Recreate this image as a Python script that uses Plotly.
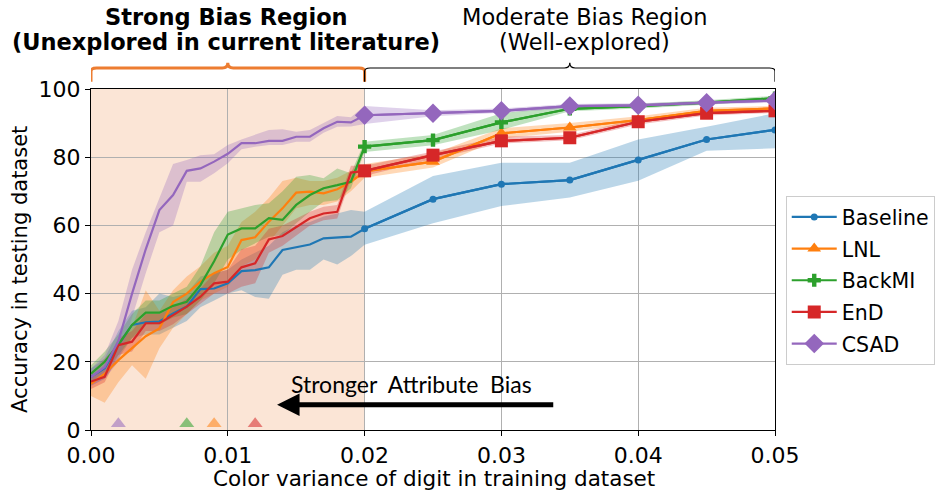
import plotly.graph_objects as go

x = [0.000, 0.001, 0.002, 0.003, 0.004, 0.005, 0.006, 0.007, 0.008, 0.009, 0.010,
     0.011, 0.012, 0.013, 0.014, 0.015, 0.016, 0.017, 0.018, 0.019, 0.020,
     0.025, 0.030, 0.035, 0.040, 0.045, 0.050]

baseline = [15.6, 18.1, 25.0, 30.8, 31.6, 31.8, 34.2, 36.2, 41.3, 41.5, 43.0,
            46.6, 46.9, 47.7, 52.8, 53.5, 54.4, 56.2, 56.5, 56.7, 59.0,
            67.7, 72.1, 73.3, 79.2, 85.2, 88.0]
baseline_lo = [13, 15, 21, 27, 28, 28, 30, 32, 36, 38, 40,
               41, 39, 38.5, 45.5, 47, 47, 50, 48.5, 51, 54.3,
               60.6, 65.7, 68.2, 73.1, 81.9, 82.6]
baseline_hi = [18, 21, 29, 35, 36, 40, 39, 40, 45, 46, 47,
               50, 52, 54, 58, 60, 61, 62.6, 63.5, 64.5, 64.0,
               74.5, 78.4, 78.4, 85.2, 88.9, 92.9]

lnl = [13.5, 16.5, 20.5, 24.0, 27.5, 29.8, 37.5, 40.0, 43.5, 46.0, 47.8,
       55.7, 56.5, 61.1, 65.0, 69.6, 69.9, 69.4, 70.6, 72.8, 75.8,
       78.7, 87.0, 88.7, 90.9, 93.6, 94.3]
lnl_lo = [10, 8, 14, 19, 15, 24, 30, 34, 38, 40, 42,
          48, 50, 55, 60, 65, 66, 66, 67, 70, 74,
          77, 85.5, 87.5, 90, 92.8, 93.5]
lnl_hi = [17, 21, 25, 30, 41, 35, 41, 45, 48, 52, 54,
          61, 64, 68, 73, 74, 73, 73, 74, 76, 78,
          81, 88.5, 90, 92, 94.5, 95]

backmi = [16.5, 20.0, 25.0, 30.8, 34.4, 34.4, 36.4, 37.6, 42.5, 49.5, 57.3,
          59.1, 59.1, 62.1, 61.6, 66.0, 68.9, 70.9, 71.8, 72.8, 83.1,
          85.0, 90.2, 94.2, 95.0, 96.0, 97.3]
backmi_lo = [14, 17, 22, 27, 31, 31, 33, 34, 38, 43, 50,
             52.8, 54.8, 56.7, 57.2, 60.6, 64, 66.9, 67.4, 70.9, 81.5,
             83.5, 88, 93.5, 94.3, 95.3, 96.5]
backmi_hi = [19, 23, 28, 34, 38, 38, 40, 42, 48, 58, 64,
             65, 66, 66.5, 70, 74.3, 74.8, 73.8, 76.7, 75.3, 84.5,
             86.5, 92.9, 95, 95.7, 96.7, 98]

end = [14.2, 15.6, 24.9, 25.9, 31.3, 31.3, 33.7, 36.2, 39.1, 43.0, 43.5,
       47.7, 48.9, 55.9, 56.9, 59.4, 62.1, 63.5, 64.0, 75.5, 76.0,
       80.6, 84.8, 85.7, 90.4, 92.9, 93.6]
end_lo = [12, 14, 22, 23, 29, 29, 31, 34, 37, 40, 40,
          42, 43, 52, 54, 57, 60, 61.5, 62, 73.5, 74.5,
          79.5, 84, 85, 89.6, 92.2, 93]
end_hi = [16, 18, 27, 29, 34, 34, 36, 38.5, 41.5, 46, 47,
          53, 54, 59, 60, 62, 64, 65.5, 66, 77.5, 77.5,
          81.7, 86, 86.5, 91.2, 93.6, 94.3]

csad = [15.5, 18.5, 26.0, 40.0, 53.0, 64.5, 68.9, 76.0, 76.7, 78.7, 81.0,
        84.1, 84.1, 84.8, 84.8, 86.0, 86.0, 88.5, 90.4, 90.2, 92.3,
        92.9, 93.6, 95.0, 95.2, 96.0, 96.6]
csad_lo = [13, 15, 20, 33, 46, 58, 60, 72.8, 72.8, 75.3, 78.2,
           82.3, 83.1, 83.6, 83.6, 84.5, 84.5, 87.2, 88.9, 89, 89.7,
           92, 93, 94.3, 94.6, 95.5, 96]
csad_hi = [18, 22, 32, 47, 58, 68, 78, 79.2, 80.6, 80.9, 83.6,
           85.2, 86.5, 88, 88.2, 87.5, 88, 90.1, 92.1, 91.7, 95,
           93.8, 94.3, 95.6, 95.8, 96.5, 97.3]

names = ["Baseline", "LNL", "BackMI", "EnD", "CSAD"]
means = [baseline, lnl, backmi, end, csad]
lows = [baseline_lo, lnl_lo, backmi_lo, end_lo, csad_lo]
highs = [baseline_hi, lnl_hi, backmi_hi, end_hi, csad_hi]
colors = ["#1f77b4", "#ff7f0e", "#2ca02c", "#d62728", "#9467bd"]
fills = ["rgba(31,119,180,0.3)", "rgba(255,127,14,0.3)", "rgba(44,160,44,0.3)",
         "rgba(214,39,40,0.3)", "rgba(148,103,189,0.3)"]
symbols = ["circle", "triangle-up", "cross", "square", "diamond"]
msizes = [7, 12, 11, 13, 15]

# x positions of the coloured flags at the bottom
flag_x = [0.002, 0.009, 0.007, 0.012]
flag_y = [1.8, 1.8, 1.8, 1.8]
flag_colors = ["rgba(148,103,189,0.55)", "rgba(255,127,14,0.55)",
               "rgba(44,160,44,0.55)", "rgba(214,39,40,0.55)"]

xtick_vals = [0, 0.01, 0.02, 0.03, 0.04, 0.05]
xtick_text = ["0.00", "0.01", "0.02", "0.03", "0.04", "0.05"]
ytick_vals = [0, 20, 40, 60, 80, 100]

marker_start = 0.02
region_split = 0.02

fig = go.Figure()

for i in range(5):
    fig.add_trace(go.Scatter(
        x=x + x[::-1], y=highs[i] + lows[i][::-1], fill="toself",
        fillcolor=fills[i], line=dict(width=0), mode="lines",
        hoverinfo="skip", showlegend=False, legendgroup=names[i]))

for i in range(5):
    fig.add_trace(go.Scatter(
        x=x, y=means[i], mode="lines", line=dict(color=colors[i], width=2.2),
        showlegend=False, legendgroup=names[i]))
    xs = [v for v in x if v >= marker_start]
    ys = [m for v, m in zip(x, means[i]) if v >= marker_start]
    fig.add_trace(go.Scatter(
        x=xs, y=ys, mode="lines+markers", name=names[i], legendgroup=names[i],
        line=dict(color=colors[i], width=2.2),
        marker=dict(symbol=symbols[i], size=msizes[i], color=colors[i],
                    line=dict(width=0))))

fig.add_trace(go.Scatter(
    x=flag_x, y=flag_y, mode="markers", showlegend=False,
    marker=dict(symbol="triangle-up", size=13, color=flag_colors, line=dict(width=0))))

# shaded strong-bias region
fig.add_shape(type="rect", xref="x", yref="paper", x0=0, x1=region_split, y0=0, y1=1,
              fillcolor="rgba(237,125,49,0.2)", line=dict(width=0), layer="below")

# brackets above plot
def bracket(x0, x1, color, width):
    xm = (x0 + x1) / 2
    ytop = 1.0616
    ybot = 1.021
    ypeak = 1.077
    d = 0.0004
    path = (f"M {x0},{ybot} L {x0},{ytop - 0.01} Q {x0},{ytop} {x0 + d},{ytop} "
            f"L {xm - d},{ytop} Q {xm},{ytop} {xm},{ypeak} "
            f"Q {xm},{ytop} {xm + d},{ytop} L {x1 - d},{ytop} "
            f"Q {x1},{ytop} {x1},{ytop - 0.01} L {x1},{ybot}")
    fig.add_shape(type="path", path=path, xref="x", yref="paper",
                  line=dict(color=color, width=width))

bracket(0.0, region_split, "#ED7D31", 3)
bracket(region_split, 0.05, "black", 1.2)

font = "DejaVu Sans"
anns = [
    dict(x=0.0099, y=1.211, text="<b>Strong Bias Region</b>"),
    dict(x=0.0099, y=1.138, text="<b>(Unexplored in current literature)</b>"),
    dict(x=0.0361, y=1.211, text="Moderate Bias Region"),
    dict(x=0.0361, y=1.138, text="(Well-explored)"),
]
for a in anns:
    fig.add_annotation(x=a["x"], y=a["y"], xref="x", yref="paper", text=a["text"],
                       showarrow=False, font=dict(family=font, size=22.5, color="black"),
                       xanchor="center", yanchor="middle")

# axis titles
fig.add_annotation(x=0.502, y=-0.141, xref="paper", yref="paper",
                   text="Color variance of digit in training dataset", showarrow=False,
                   font=dict(family=font, size=21.5, color="black"),
                   xanchor="center", yanchor="middle")
fig.add_annotation(x=-0.104, y=0.472, xref="paper", yref="paper",
                   text="Accuracy in testing dataset", showarrow=False, textangle=-90,
                   font=dict(family=font, size=21, color="black"),
                   xanchor="center", yanchor="middle")

fig.add_annotation(x=0.0234, y=13.6, xref="x", yref="y",
                   text="Stronger  Attribute  Bias", showarrow=False,
                   font=dict(family="Lato", size=23, color="black"))
fig.add_annotation(x=0.0136, y=7.4, ax=0.0339, ay=7.4, xref="x", yref="y",
                   axref="x", ayref="y", text="", showarrow=True,
                   arrowhead=2, arrowsize=0.9, arrowwidth=5, arrowcolor="black")

fig.update_layout(
    width=935, height=490,
    margin=dict(l=91, r=160, t=89, b=60, autoexpand=False),
    plot_bgcolor="white", paper_bgcolor="white",
    font=dict(family=font, size=22, color="black"),
    legend=dict(x=1.0157, y=0.438, xanchor="left", yanchor="middle",
                bordercolor="#cccccc", borderwidth=1, font=dict(size=20.5),
                tracegroupgap=2, itemwidth=45, traceorder="grouped"),
    xaxis=dict(range=[0, 0.05], tickvals=xtick_vals, ticktext=xtick_text,
               showgrid=True, gridcolor="#b0b0b0", gridwidth=1,
               showline=True, linecolor="black", linewidth=1.2, mirror=True,
               ticks="outside", ticklen=5, tickcolor="black",
               tickfont=dict(size=22), zeroline=False, automargin=False),
    yaxis=dict(range=[0, 100], tickvals=ytick_vals,
               showgrid=True, gridcolor="#b0b0b0", gridwidth=1,
               showline=True, linecolor="black", linewidth=1.2, mirror=True,
               ticks="outside", ticklen=5, tickcolor="black",
               tickfont=dict(size=22), zeroline=False, automargin=False),
)

fig.write_html("out.html", config={"displayModeBar": False},
               post_script="document.body.style.margin='0px';")
